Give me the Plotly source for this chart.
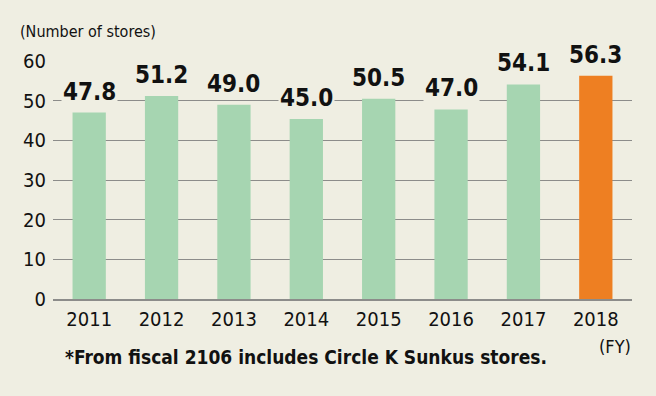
import plotly.graph_objects as go

years = ["2011", "2012", "2013", "2014", "2015", "2016", "2017", "2018"]
bar_values = [47.0, 51.2, 49.0, 45.4, 50.5, 47.8, 54.1, 56.3]
value_labels = ["47.8", "51.2", "49.0", "45.0", "50.5", "47.0", "54.1", "56.3"]
y_ticks = [0, 10, 20, 30, 40, 50, 60]

BG = "#efeee2"
GREEN = "#a6d5b1"
ORANGE = "#ee7f22"
GRID = "#8c8c8a"
FONT = "Liberation Sans Narrow, DejaVu Sans Condensed, Arial Narrow, Roboto, sans-serif"

colors = [GREEN] * (len(years) - 1) + [ORANGE]

fig = go.Figure()
fig.add_trace(go.Bar(
    x=years, y=bar_values, marker=dict(color=colors, line=dict(width=0)),
    width=0.46, hoverinfo="skip",
))

for i, (v, lab) in enumerate(zip(bar_values, value_labels)):
    fig.add_annotation(
        x=i, y=v, xref="x", yref="y", text=f"<b>{lab}</b>", showarrow=False,
        yanchor="bottom", yshift=5, bgcolor=BG, borderpad=1,
        font=dict(family=FONT, size=24, color="#111111"),
    )

fig.add_annotation(
    xref="paper", yref="paper", x=-0.06, y=1.0, yshift=18, xanchor="left",
    yanchor="bottom", showarrow=False, text="(Number of stores)",
    font=dict(family=FONT, size=16, color="#111111"),
)
fig.add_annotation(
    xref="paper", yref="paper", x=0.94, y=0, yshift=-35, xanchor="left",
    yanchor="top", showarrow=False, text="(FY)",
    font=dict(family=FONT, size=18, color="#111111"),
)
fig.add_annotation(
    xref="paper", yref="paper", x=0.017, y=0, yshift=-45, xanchor="left",
    yanchor="top", showarrow=False,
    text="<b>*From fiscal 2106 includes Circle K Sunkus stores.</b>",
    font=dict(family=FONT, size=19, color="#111111"),
)

fig.update_layout(
    width=656, height=396,
    margin=dict(l=53, r=24, t=61, b=97),
    paper_bgcolor=BG, plot_bgcolor=BG,
    showlegend=False,
    bargap=0.54,
    xaxis=dict(
        type="category", showgrid=False, ticks="", showline=True,
        linecolor=GRID, linewidth=1.5, ticklabelstandoff=1,
        tickfont=dict(family=FONT, size=20, color="#111111"),
        range=[-0.5, 7.5],
    ),
    yaxis=dict(
        range=[0, 60], tickvals=y_ticks, showgrid=True, gridcolor=GRID,
        gridwidth=1.2, zeroline=False, ticks="", showline=False,
        ticklabelstandoff=6,
        tickfont=dict(family=FONT, size=20, color="#111111"),
    ),
)

fig.write_html("out.html")
